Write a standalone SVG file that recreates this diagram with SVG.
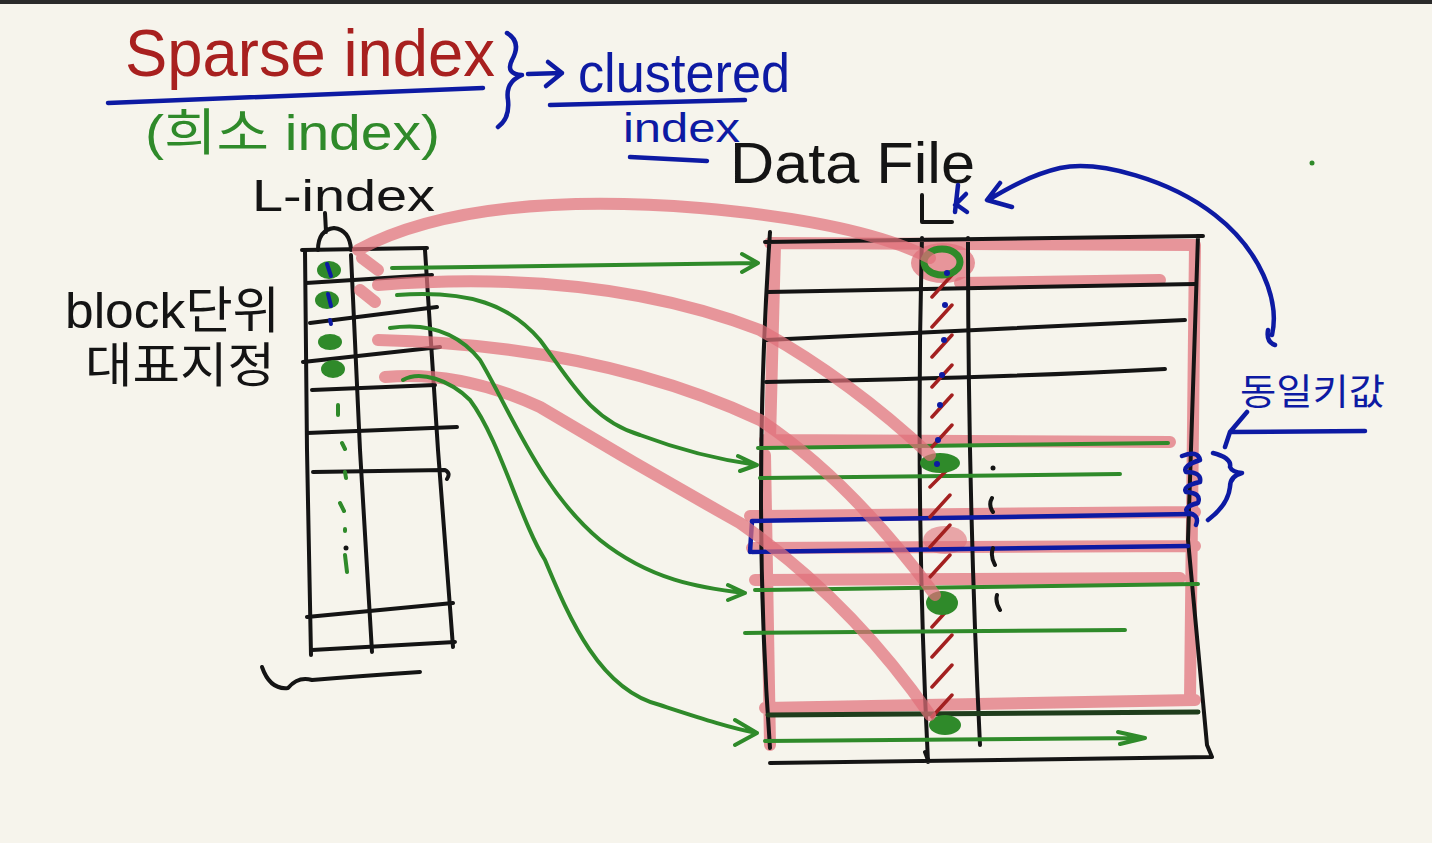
<svg xmlns="http://www.w3.org/2000/svg" width="1432" height="843" viewBox="0 0 1432 843">
<defs>
<style>
.bk{fill:none;stroke:#141414;stroke-width:4;stroke-linecap:round;stroke-linejoin:round}
.gr{fill:none;stroke:#2f8a2a;stroke-width:4;stroke-linecap:round;stroke-linejoin:round}
.bl{fill:none;stroke:#0d1aa3;stroke-width:4.5;stroke-linecap:round;stroke-linejoin:round}
.pk{fill:none;stroke:#e0707a;stroke-width:12;stroke-linecap:round;stroke-linejoin:round;opacity:0.72}
.rd{fill:none;stroke:#a32020;stroke-width:3.5;stroke-linecap:round}
.t{font-family:"Liberation Sans","Noto Sans CJK KR",sans-serif}
</style>
</defs>
<rect width="1432" height="843" fill="#f6f4ec"/>
<rect width="1432" height="4" fill="#2a2a2a"/>

<g id="title">
<text class="t" x="125" y="76" font-size="66" fill="#a8201f" textLength="370" lengthAdjust="spacingAndGlyphs">Sparse index</text>
<path class="bl" d="M108,103 Q300,95 483,88"/>
<text class="t" x="145" y="150" font-size="50" fill="#2f8a2a" textLength="295" lengthAdjust="spacingAndGlyphs">(희소 index)</text>
<path class="bl" d="M507,33 Q522,42 512,60 Q505,74 522,75 Q505,82 508,100 Q510,118 498,127"/>
<path class="bl" d="M528,74 L562,73 M548,62 L562,73 L546,86"/>
<text class="t" x="578" y="92" font-size="56" fill="#0d1aa3" textLength="212" lengthAdjust="spacingAndGlyphs">clustered</text>
<path class="bl" d="M550,105 L745,100"/>
<text class="t" x="623" y="142" font-size="40" fill="#0d1aa3" textLength="117" lengthAdjust="spacingAndGlyphs">index</text>
<path class="bl" d="M630,157 L707,161"/>
</g>

<g id="lindex">
<text class="t" x="252" y="211" font-size="44" fill="#141414" textLength="183" lengthAdjust="spacingAndGlyphs">L-index</text>
<path class="bk" d="M325,213 L326,232 M318,250 Q318,230 334,228 Q350,230 351,250"/>
<path class="bk" d="M305,250 L307,450 L311,655 M351,255 L360,450 L372,652 M425,250 L438,450 L453,647"/>
<path class="bk" d="M302,250 L427,248 M306,283 L432,275 M310,323 L437,307 M303,362 L440,347 M312,390 L435,385 M307,433 L457,427 M313,472 L445,470 Q451,473 447,479 M307,617 L453,603 M312,650 L455,642"/>
<path class="bk" d="M262,667 Q270,690 288,688 Q298,676 312,680 Q360,676 420,672"/>
<g fill="#2f8a2a">
<ellipse cx="329" cy="270" rx="12" ry="9"/>
<ellipse cx="327" cy="300" rx="12" ry="9"/>
<ellipse cx="330" cy="342" rx="12" ry="8"/>
<ellipse cx="333" cy="369" rx="12" ry="9"/>
</g>
<path d="M327,264 L331,276 M328,294 L331,306 M330,320 L331,324" fill="none" stroke="#0d1aa3" stroke-width="4" stroke-linecap="round"/>
<path class="gr" d="M338,405 L338,415 M342,443 L345,449 M345,472 L346,478 M340,503 L344,511 M345,529 L345,531 M345,555 L347,572" stroke-width="5"/>
<circle cx="346" cy="548" r="2.5" fill="#141414"/>
</g>

<g id="datafile">
<text class="t" x="730" y="183" font-size="58" fill="#141414" textLength="245" lengthAdjust="spacingAndGlyphs">Data File</text>
<path class="bk" d="M922,195 L922,222 L952,222"/>
<path class="bl" d="M958,185 L955,212 M955,205 L966,194 M957,205 L967,212" stroke-width="4"/>
<g id="pinkframe">
<path class="pk" d="M770,243 L1195,245 L1190,700 M775,245 L770,440 M765,455 L770,745 M960,283 L1160,280 M765,440 L1170,442 M750,516 L1195,512 M752,548 L1195,546 M755,580 L1180,578 M765,708 L1195,700"/>
<ellipse cx="943" cy="263" rx="32" ry="20" fill="#e0707a" opacity="0.72"/>
<ellipse cx="945" cy="540" rx="22" ry="14" fill="#e0707a" opacity="0.6"/>
</g>
<path class="bk" d="M765,242 L1203,236 M770,232 Q752,500 770,748 M922,238 Q915,500 928,762 M968,238 Q968,500 980,745 M1198,236 L1188,540 L1207,745 L1212,757 M770,763 L1212,757"/>
<path class="bk" d="M768,292 L1195,284 M766,340 L1185,320 M766,382 Q1000,378 1165,369"/>
<path class="gr" d="M758,448 L1168,443 M760,478 L1120,474 M755,590 L1198,584 M745,633 L1125,630 M765,741 L1145,738 M1118,732 L1145,738 L1120,744" stroke-width="5"/>
<path d="M768,715 L1198,712" fill="none" stroke="#1f3d1c" stroke-width="5" stroke-linecap="round"/>
<path class="bl" d="M752,521 L1192,514 M752,552 L1188,546 M752,521 L750,552" stroke-width="5"/>
<path class="rd" d="M932,297 L952,275 M932,327 L952,305 M932,357 L952,335 M932,387 L952,365 M932,417 L952,395 M932,447 L952,425 M930,487 L950,467 M930,517 L950,495 M930,547 L950,525 M930,577 L950,555 M932,627 L952,605 M932,657 L952,635 M932,687 L952,665 M932,717 L952,695"/>
<ellipse cx="942" cy="262" rx="18" ry="13" fill="none" stroke="#2f8a2a" stroke-width="7"/>
<ellipse cx="940" cy="463" rx="20" ry="10" fill="#2f8a2a"/>
<ellipse cx="942" cy="603" rx="16" ry="12" fill="#2f8a2a"/>
<ellipse cx="945" cy="725" rx="16" ry="10" fill="#2f8a2a"/>
<g fill="#0d1aa3">
<circle cx="947" cy="273" r="3"/><circle cx="945" cy="305" r="3"/><circle cx="944" cy="340" r="3"/><circle cx="942" cy="375" r="3"/><circle cx="940" cy="405" r="3"/><circle cx="938" cy="440" r="3"/><circle cx="937" cy="464" r="3"/>
</g>
<circle cx="993" cy="468" r="2.5" fill="#141414"/>
<path class="bk" d="M992,498 Q988,505 993,512 M993,548 Q990,556 995,565 M997,595 Q995,602 1000,610 M925,752 L928,760" stroke-width="3"/>
</g>

<g id="connectors">
<path class="pk" d="M358,250 Q470,190 700,208 Q860,222 930,258 M362,258 L378,270 M360,290 L375,302"/>
<path class="pk" d="M378,285 Q600,268 760,330 Q850,380 930,455"/>
<path class="pk" d="M378,340 Q600,345 760,420 Q850,480 935,595"/>
<path class="pk" d="M385,377 Q460,370 540,407 Q640,467 740,523 Q850,600 930,715"/>
<path class="gr" d="M392,268 L758,263 M742,254 L758,263 L742,272"/>
<path class="gr" d="M397,295 C470,290 510,305 540,340 C570,380 590,420 640,435 C680,450 720,460 757,465 M738,456 L757,465 L740,471"/>
<path class="gr" d="M390,328 C430,322 460,335 480,360 C510,410 540,490 600,540 C650,580 700,588 745,593 M728,585 L745,593 L728,600"/>
<path class="gr" d="M403,380 C420,370 450,380 470,400 C500,440 520,520 545,560 C570,620 600,690 660,705 C700,718 730,728 757,733 M735,720 L757,733 L735,745"/>
<path class="bl" d="M1272,335 C1280,300 1260,250 1215,215 C1170,180 1100,160 1060,168 C1030,175 1005,190 988,200 M1000,183 L987,200 L1012,207 M1268,330 Q1266,342 1275,345"/>
</g>

<g id="samekey">
<text class="t" x="1240" y="405" font-size="36" fill="#0d1aa3" textLength="145" lengthAdjust="spacingAndGlyphs">동일키값</text>
<path class="bl" d="M1230,432 L1365,431 M1247,412 L1230,432 L1225,447"/>
<path class="bl" d="M1213,453 Q1232,458 1230,467 Q1232,472 1242,473 Q1230,476 1230,487 Q1228,505 1208,520"/>
<path class="bl" d="M1182,456 Q1198,450 1200,460 Q1182,466 1186,472 Q1202,472 1200,482 Q1182,486 1186,492 Q1202,493 1198,503 Q1182,507 1188,513 Q1200,515 1196,525" stroke-width="5"/>
</g>

<g id="block">
<text class="t" x="65" y="328" font-size="50" fill="#141414" textLength="215" lengthAdjust="spacingAndGlyphs">block단위</text>
<text class="t" x="85" y="382" font-size="48" fill="#141414" textLength="190" lengthAdjust="spacingAndGlyphs">대표지정</text>
</g>
<circle cx="1312" cy="163" r="2.5" fill="#2f8a2a"/>
</svg>
